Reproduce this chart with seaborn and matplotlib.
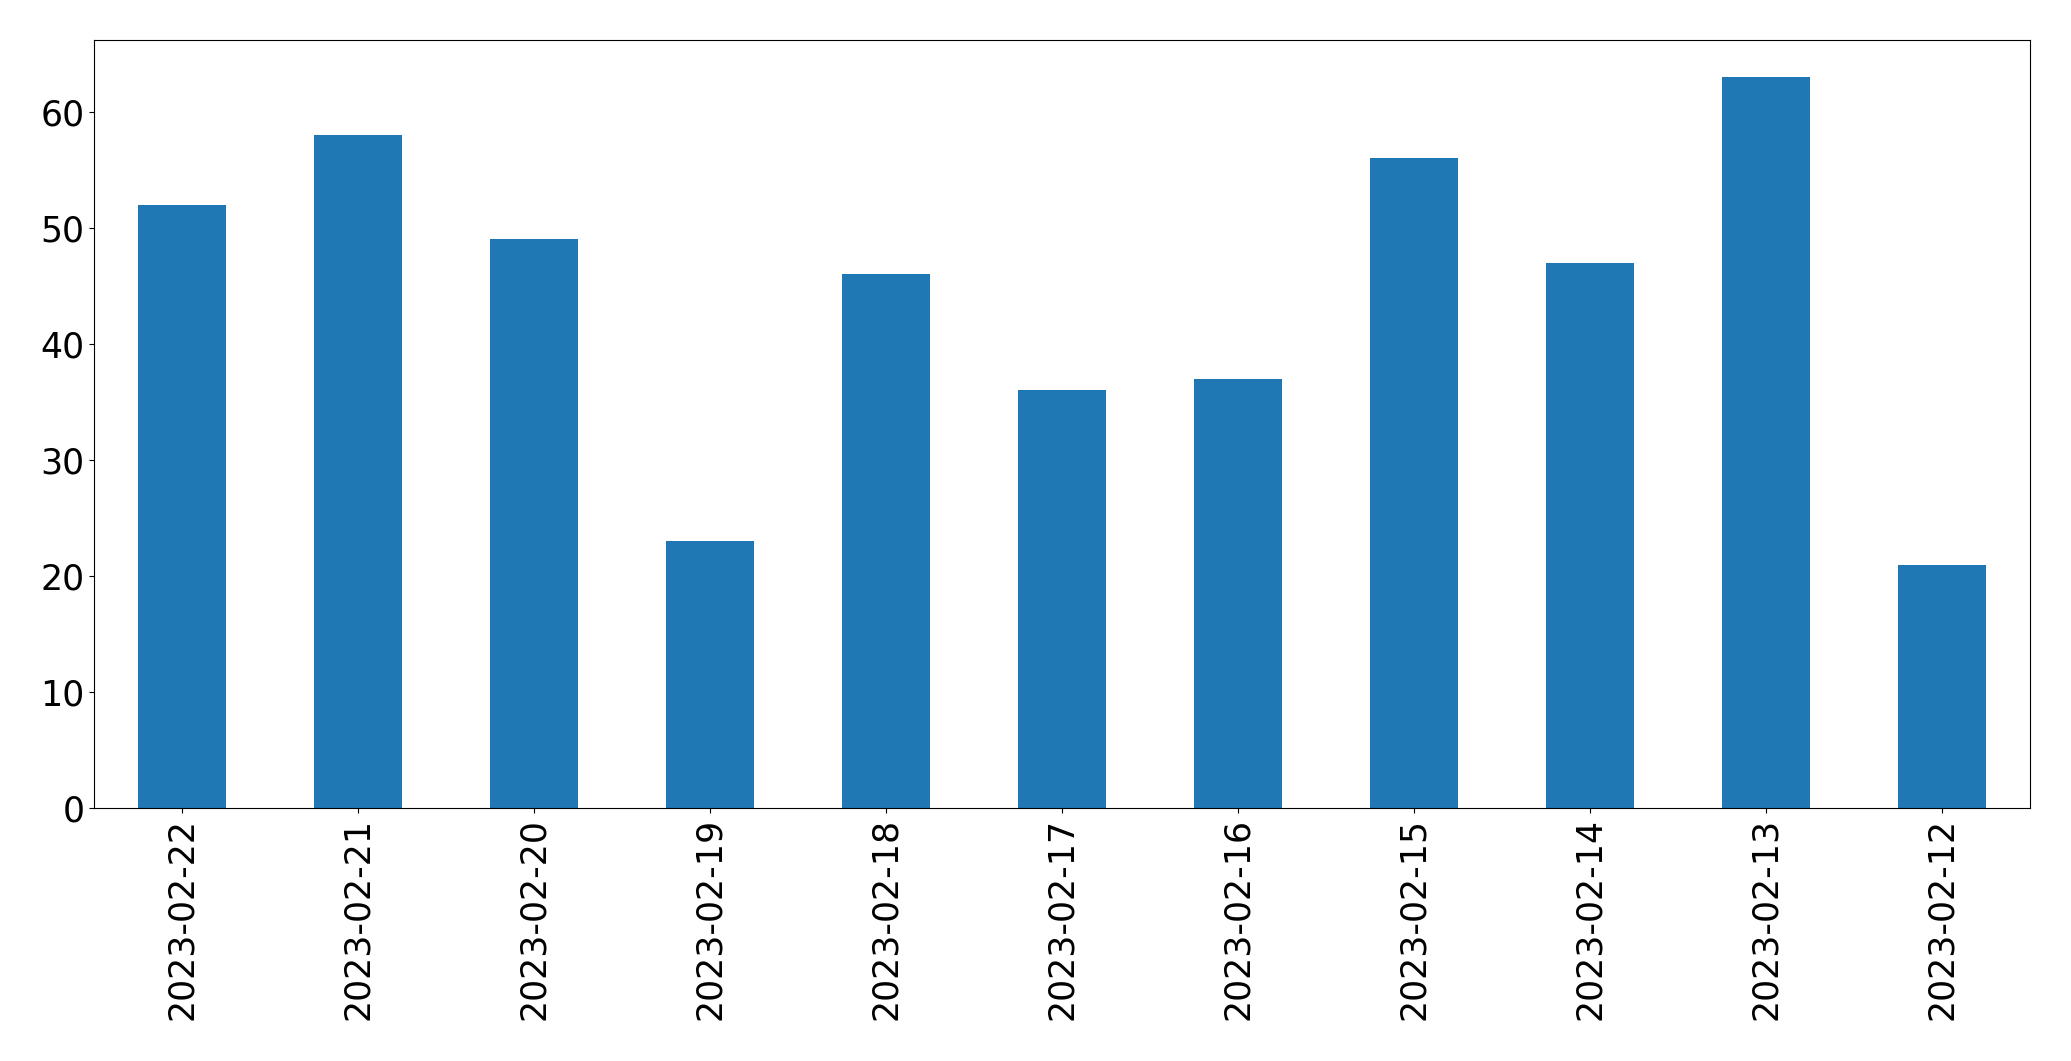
import matplotlib

matplotlib.use("Agg")
import matplotlib.pyplot as plt
import pandas as pd
import seaborn as sns

dates = [
    "2023-02-22",
    "2023-02-21",
    "2023-02-20",
    "2023-02-19",
    "2023-02-18",
    "2023-02-17",
    "2023-02-16",
    "2023-02-15",
    "2023-02-14",
    "2023-02-13",
    "2023-02-12",
]
counts = [52, 58, 49, 23, 46, 36, 37, 56, 47, 63, 21]


def main() -> None:
    df = pd.DataFrame({"date": dates, "count": counts})

    fig = plt.figure(figsize=(20.71, 10.61), dpi=100)
    ax = fig.add_axes([0.0454, 0.238, 0.9346, 0.724])
    sns.barplot(
        data=df,
        x="date",
        y="count",
        order=dates,
        color="#1f77b4",
        saturation=1,
        width=0.5,
        linewidth=0,
        ax=ax,
    )
    ax.set_xlim(-0.5, len(dates) - 0.5)
    ax.set_ylim(0, max(counts) * 1.05)
    ax.set_xlabel("")
    ax.set_ylabel("")
    ax.tick_params(axis="both", labelsize=25)
    ax.tick_params(axis="x", labelrotation=90)
    fig.savefig("out.png", dpi=100)
    plt.close(fig)


if __name__ == "__main__":
    main()
